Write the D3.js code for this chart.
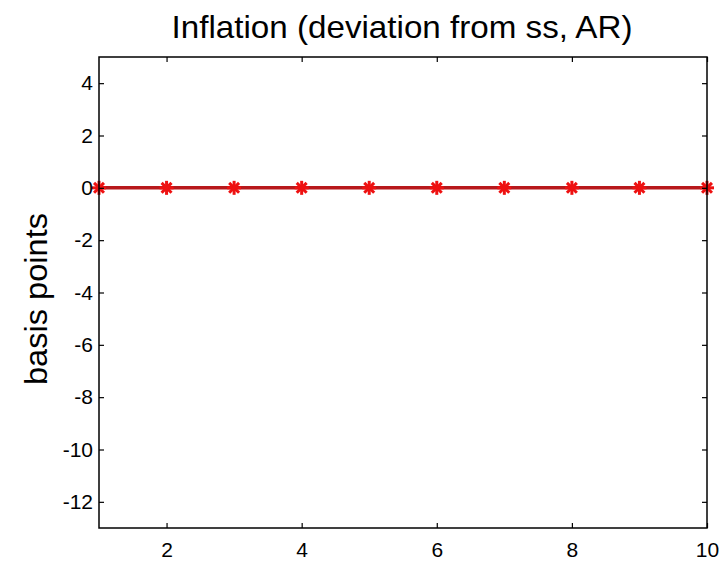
<!DOCTYPE html>
<html>
<head>
<meta charset="utf-8">
<script src="https://cdn.jsdelivr.net/npm/d3@7"></script>
<style>
  body { margin: 0; background: #fff; }
  text { font-family: "Liberation Sans", Arial, sans-serif; fill: #000; }
  .tick text { font-size: 21px; }
</style>
</head>
<body>
<svg id="chart" width="725" height="564"></svg>
<script>
// periods and response (basis points)
var periods = [1, 2, 3, 4, 5, 6, 7, 8, 9, 10];
var inflation = [0, 0, 0, 0, 0, 0, 0, 0, 0, 0];
var xTicks = [2, 4, 6, 8, 10];
var yTicks = [4, 2, 0, -2, -4, -6, -8, -10, -12];

var svg = d3.select("#chart");
var m = {left: 99, right: 707, top: 57, bottom: 528};

var x = d3.scaleLinear().domain([1, 10]).range([m.left, m.right]);
var y = d3.scaleLinear().domain([-13, 5]).range([m.bottom, m.top]);

// the data line
var line = d3.line()
  .x((d, i) => x(periods[i]))
  .y(d => y(d));

svg.append("path")
  .attr("d", line(inflation))
  .attr("fill", "none")
  .attr("stroke", "#b8191c")
  .attr("stroke-width", 3.5);

// asterisk markers
var r = 7;
var marks = svg.append("g").attr("stroke", "#ee1111").attr("stroke-width", 3);
inflation.forEach((v, i) => {
  var cx = x(periods[i]), cy = y(v);
  [0, 45, 90, 135].forEach(a => {
    var rad = a * Math.PI / 180;
    marks.append("line")
      .attr("x1", cx - r * Math.cos(rad)).attr("y1", cy - r * Math.sin(rad))
      .attr("x2", cx + r * Math.cos(rad)).attr("y2", cy + r * Math.sin(rad));
  });
});

// axes, matlab style box with inward ticks
var tick = 5;
svg.append("g")
  .attr("transform", "translate(0," + m.bottom + ")")
  .call(d3.axisBottom(x).tickValues(xTicks).tickSize(-tick).tickPadding(14).tickSizeOuter(0))
  .call(g => g.select(".domain").remove());

svg.append("g")
  .attr("transform", "translate(0," + m.top + ")")
  .call(d3.axisTop(x).tickValues(xTicks).tickSize(-tick).tickFormat("").tickSizeOuter(0))
  .call(g => g.select(".domain").remove());

svg.append("g")
  .attr("transform", "translate(" + m.left + ",0)")
  .call(d3.axisLeft(y).tickValues(yTicks).tickSize(-tick).tickPadding(6).tickSizeOuter(0)
    .tickFormat(d => d < 0 ? "-" + Math.abs(d) : d))
  .call(g => g.select(".domain").remove());

svg.append("g")
  .attr("transform", "translate(" + m.right + ",0)")
  .call(d3.axisRight(y).tickValues(yTicks).tickSize(-tick).tickFormat("").tickSizeOuter(0))
  .call(g => g.select(".domain").remove());

svg.selectAll("g").attr("font-family", null).attr("font-size", null);
svg.selectAll(".tick line").attr("stroke", "#000").attr("stroke-width", 1.2);

svg.append("rect")
  .attr("x", m.left).attr("y", m.top)
  .attr("width", m.right - m.left).attr("height", m.bottom - m.top)
  .attr("fill", "none").attr("stroke", "#000").attr("stroke-width", 1.5);

// title and label
svg.append("text")
  .attr("x", 402).attr("y", 38)
  .attr("text-anchor", "middle").attr("font-size", 32)
  .attr("textLength", 461).attr("lengthAdjust", "spacingAndGlyphs")
  .text("Inflation (deviation from ss, AR)");

svg.append("text")
  .attr("transform", "translate(47,299) rotate(-90)")
  .attr("text-anchor", "middle").attr("font-size", 32)
  .attr("textLength", 172).attr("lengthAdjust", "spacingAndGlyphs")
  .text("basis points");
</script>
</body>
</html>
